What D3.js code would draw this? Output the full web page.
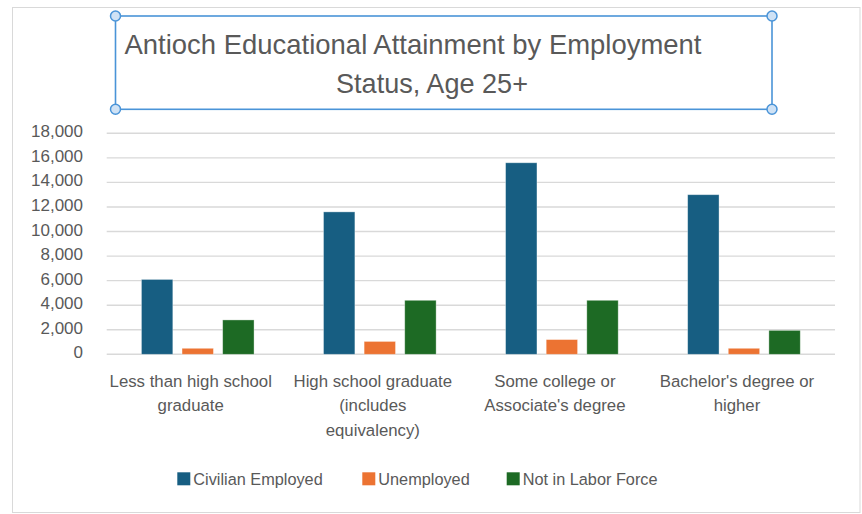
<!DOCTYPE html>
<html>
<head>
<meta charset="utf-8">
<script src="https://cdn.jsdelivr.net/npm/d3@7"></script>
<style>
  html, body { margin: 0; padding: 0; background: #fff; }
  svg { display: block; font-family: "Liberation Sans", Arial, sans-serif; }
</style>
</head>
<body>
<svg id="chart" width="862" height="514"></svg>
<script>
// Category labels, already broken into display lines
const categories = [
  ["Less than high school", "graduate"],
  ["High school graduate", "(includes", "equivalency)"],
  ["Some college or", "Associate's degree"],
  ["Bachelor's degree or", "higher"]
];
const seriesNames = ["Civilian Employed", "Unemployed", "Not in Labor Force"];
const civilianEmployed = [6100, 11600, 15600, 13000];
const unemployed = [490, 1050, 1200, 490];
const notInLaborForce = [2800, 4400, 4400, 1950];
const yTicks = [0, 2000, 4000, 6000, 8000, 10000, 12000, 14000, 16000, 18000];
const titleLines = ["Antioch Educational Attainment by Employment", "Status, Age 25+"];

const seriesValues = [civilianEmployed, unemployed, notInLaborForce];
const colors = ["#175e82", "#ec7332", "#1d6a24"];
const textColor = "#595959";

const svg = d3.select("#chart");

// Chart area frame
svg.append("rect")
  .attr("x", 12.5).attr("y", 7.5)
  .attr("width", 847.5).attr("height", 505)
  .attr("fill", "#fff").attr("stroke", "#d9d9d9").attr("stroke-width", 1);

// Scales
const plot = { left: 106.7, right: 835, top: 133.3, bottom: 354.3 };
const x0 = d3.scaleBand().domain(d3.range(categories.length))
  .range([plot.left, plot.right]).paddingInner(0).paddingOuter(0);
const x1 = d3.scaleBand().domain(d3.range(seriesNames.length))
  .range([0, x0.bandwidth()]).paddingInner(0.227).paddingOuter(0.855);
const y = d3.scaleLinear().domain([0, 18000]).range([plot.bottom, plot.top]);

// Gridlines
svg.append("g").selectAll("line").data(yTicks).join("line")
  .attr("x1", plot.left).attr("x2", plot.right)
  .attr("y1", d => y(d)).attr("y2", d => y(d))
  .attr("stroke", "#d9d9d9").attr("stroke-width", 1.4);

// Y axis labels
const fmt = d3.format(",");
svg.append("g").selectAll("text").data(yTicks).join("text")
  .attr("x", 83).attr("y", d => y(d) + 4)
  .attr("text-anchor", "end")
  .attr("font-size", 17).attr("fill", textColor)
  .text(d => fmt(d));

// Bars
const rows = categories.map((c, i) => seriesValues.map((s, j) => ({ i, j, v: s[i] })));
svg.append("g").selectAll("g").data(rows).join("g")
  .attr("transform", (d, i) => `translate(${x0(i)},0)`)
  .selectAll("rect").data(d => d).join("rect")
  .attr("x", d => x1(d.j))
  .attr("width", x1.bandwidth())
  .attr("y", d => y(d.v))
  .attr("height", d => y(0) - y(d.v))
  .attr("fill", d => colors[d.j])
  .attr("stroke", "#ffffff").attr("stroke-opacity", 0.45).attr("stroke-width", 0.8);

// Category labels
const catG = svg.append("g").selectAll("text").data(categories).join("text")
  .attr("text-anchor", "middle")
  .attr("font-size", 16.8).attr("fill", textColor)
  .attr("transform", (d, i) => `translate(${x0(i) + x0.bandwidth() / 2 - 7},386.5)`);
catG.selectAll("tspan").data(d => d).join("tspan")
  .attr("x", 0).attr("dy", (d, k) => k === 0 ? 0 : 24.5)
  .text(d => d);

// Legend
const legendX = [177.3, 362.3, 506.7];
const legend = svg.append("g").selectAll("g").data(seriesNames).join("g")
  .attr("transform", (d, i) => `translate(${legendX[i]},472.3)`);
legend.append("rect").attr("width", 13).attr("height", 13)
  .attr("fill", (d, i) => colors[i]);
legend.append("text").attr("x", 16).attr("y", 12.2)
  .attr("font-size", 16.3).attr("fill", textColor)
  .text(d => d);

// Title with its selection frame
const frame = { x1: 115.5, y1: 16, x2: 772, y2: 109.3 };
svg.append("rect")
  .attr("x", frame.x1).attr("y", frame.y1)
  .attr("width", frame.x2 - frame.x1).attr("height", frame.y2 - frame.y1)
  .attr("fill", "none").attr("stroke", "#4a94d8").attr("stroke-width", 1.6);
const titleSpec = [
  { x: 124.5, y: 54.3, w: 577 },
  { x: 336, y: 92.7, w: 192 }
];
svg.append("g").selectAll("text").data(titleLines).join("text")
  .attr("x", (d, i) => titleSpec[i].x).attr("y", (d, i) => titleSpec[i].y)
  .attr("font-size", 28).attr("fill", textColor)
  .attr("textLength", (d, i) => titleSpec[i].w)
  .attr("lengthAdjust", "spacingAndGlyphs")
  .text(d => d);
const handles = [[frame.x1, frame.y1], [frame.x2, frame.y1], [frame.x1, frame.y2], [frame.x2, frame.y2]];
svg.append("g").selectAll("circle").data(handles).join("circle")
  .attr("cx", d => d[0]).attr("cy", d => d[1]).attr("r", 5)
  .attr("fill", "#cfe2f5").attr("stroke", "#4a94d8").attr("stroke-width", 1.5);
</script>
</body>
</html>
